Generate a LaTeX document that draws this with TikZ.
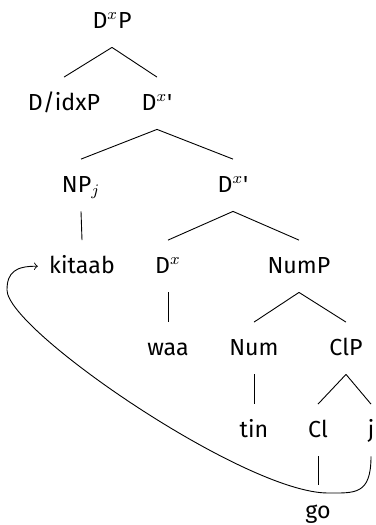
\documentclass[tikz,border=0pt]{standalone}
\usepackage{fontspec}
\setmainfont{Fira Sans}
\begin{document}
\begin{tikzpicture}[x=0.5pt,y=-0.5pt,
  lbl/.style={anchor=base, inner sep=5.5pt, text height=10.75pt, text depth=4pt,
    font=\fontsize{11.6}{14}\selectfont},
  edge/.style={line width=0.45pt},
  movement/.style={->, line width=0.45pt}]
\useasboundingbox (0,0) rectangle (375,525);
% nodes
\node[lbl] (DxP)   at (112,28)  {D$^x$P};
\node[lbl] (DidxP) at (64,110)  {D/idxP};
\node[lbl] (Dx1)   at (157,110) {D$^x$\textquotesingle};
\node[lbl] (NPj)   at (81,192)  {NP$_j$};
\node[lbl] (Dx2)   at (233,192) {D$^x$\textquotesingle};
\node[lbl] (kitaab) at (82,273) {kitaab};
\node[lbl] (Dx)    at (168,273) {D$^x$};
\node[lbl] (NumP)  at (299,273) {NumP};
\node[lbl] (waa)   at (168,355) {waa};
\node[lbl] (Num)   at (254,355) {Num};
\node[lbl] (ClP)   at (346,355) {ClP};
\node[lbl] (tin)   at (254,437) {tin};
\node[lbl] (Cl)    at (318,437) {Cl};
\node[lbl] (j)     at (371,437) {j};
\node[lbl] (go)    at (318,518) {go};
% tree edges
\draw[edge] (DxP.south) -- (DidxP.north);
\draw[edge] (DxP.south) -- (Dx1.north);
\draw[edge] (Dx1.south) -- (NPj.north);
\draw[edge] (Dx1.south) -- (Dx2.north);
\draw[edge] (NPj.south) -- (kitaab.north);
\draw[edge] (Dx2.south) -- (Dx.north);
\draw[edge] (Dx2.south) -- (NumP.north);
\draw[edge] (Dx.south) -- (waa.north);
\draw[edge] (NumP.south) -- (Num.north);
\draw[edge] (NumP.south) -- (ClP.north);
\draw[edge] (Num.south) -- (tin.north);
\draw[edge] (ClP.south) -- (Cl.north);
\draw[edge] (ClP.south) -- (j.north);
\draw[edge] (Cl.south) -- (go.north);
% movement arrow
\draw[movement] (j.south) .. controls (371,495) and (355,493) .. (328,493)
  .. controls (245,493) and (7,330) .. (7,290)
  .. controls (7,272) and (16,266) .. (kitaab.west);
\end{tikzpicture}
\end{document}
